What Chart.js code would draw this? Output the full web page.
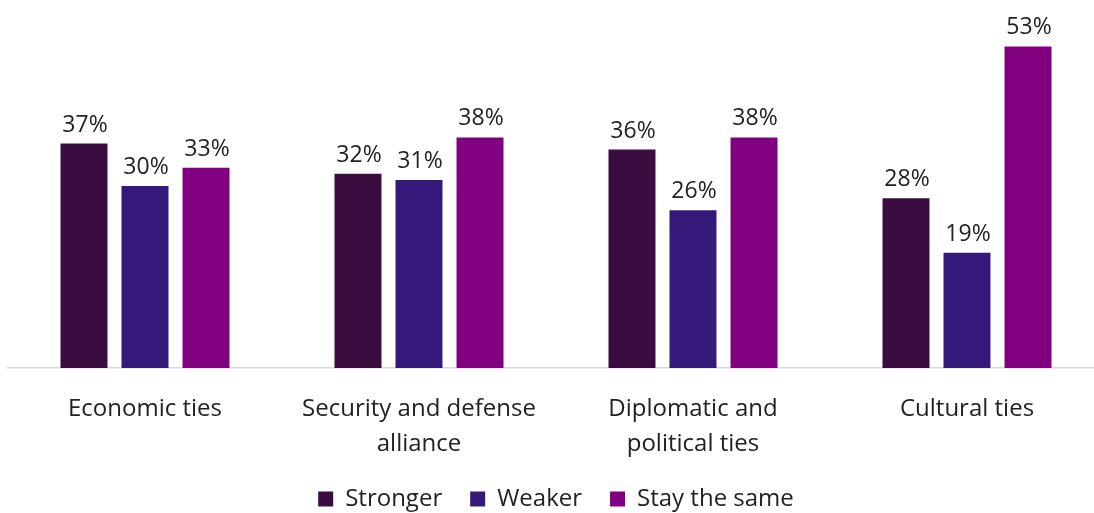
<!DOCTYPE html>
<html>
<head>
<meta charset="utf-8">
<script src="https://cdn.jsdelivr.net/npm/chart.js@4"></script>
<style>
  html, body { margin: 0; padding: 0; background: #fff; overflow: hidden; }
  #wrap { width: 1104px; height: 521px; }
</style>
</head>
<body>
<div id="wrap"><canvas id="tiesChart"></canvas></div>
<script>
const categories = [
    'Economic ties',
    ['Security and defense', 'alliance'],
    ['Diplomatic and', 'political ties'],
    'Cultural ties'
];
const seriesNames = ['Stronger', 'Weaker', 'Stay the same'];
const stronger = [37, 32, 36, 28];
const weaker = [30, 31, 26, 19];
const staySame = [33, 38, 38, 53];
const colors = ['#3a0c3f', '#35197a', '#800080'];

const textColor = '#222222';
const fontFamily = '"Open Sans", Lato, sans-serif';

// draws the "37%" labels over each bar
const valueLabels = {
    id: 'valueLabels',
    afterDatasetsDraw(chart) {
        const ctx = chart.ctx;
        ctx.save();
        ctx.font = '23px ' + fontFamily;
        ctx.fillStyle = textColor;
        ctx.textAlign = 'center';
        ctx.textBaseline = 'alphabetic';
        chart.data.datasets.forEach((ds, i) => {
            const meta = chart.getDatasetMeta(i);
            meta.data.forEach((bar, j) => {
                ctx.fillText(ds.data[j] + '%', bar.x + 1, bar.y - 12);
            });
        });
        ctx.restore();
    }
};

const seriesValues = [stronger, weaker, staySame];
const data = {
    labels: categories,
    datasets: seriesNames.map((name, i) => ({
        label: name,
        data: seriesValues[i],
        backgroundColor: colors[i],
        barPercentage: 0.77,
        categoryPercentage: 0.668
    }))
};

const tiesChart = new Chart(document.getElementById('tiesChart'), {
    type: 'bar',
    data: data,
    plugins: [valueLabels],
    options: {
        responsive: true,
        maintainAspectRatio: false,
        animation: false,
        layout: {
            padding: { top: 4, left: 8, right: 0, bottom: 0 }
        },
        plugins: {
            tooltip: { enabled: false },
            legend: {
                position: 'bottom',
                labels: {
                    boxWidth: 15,
                    boxHeight: 15,
                    padding: 28,
                    color: textColor,
                    font: { family: fontFamily, size: 24 }
                }
            }
        },
        scales: {
            y: {
                display: false,
                min: 0,
                max: 60
            },
            x: {
                grid: { display: false, drawTicks: false },
                border: { display: true, color: '#d9d9d9', width: 1.5 },
                ticks: {
                    color: textColor,
                    padding: 24,
                    maxRotation: 0,
                    font: { family: fontFamily, size: 24, lineHeight: 1.45 }
                },
                afterFit(axis) {
                    axis.height = 91;
                }
            }
        }
    }
});
</script>
</body>
</html>
